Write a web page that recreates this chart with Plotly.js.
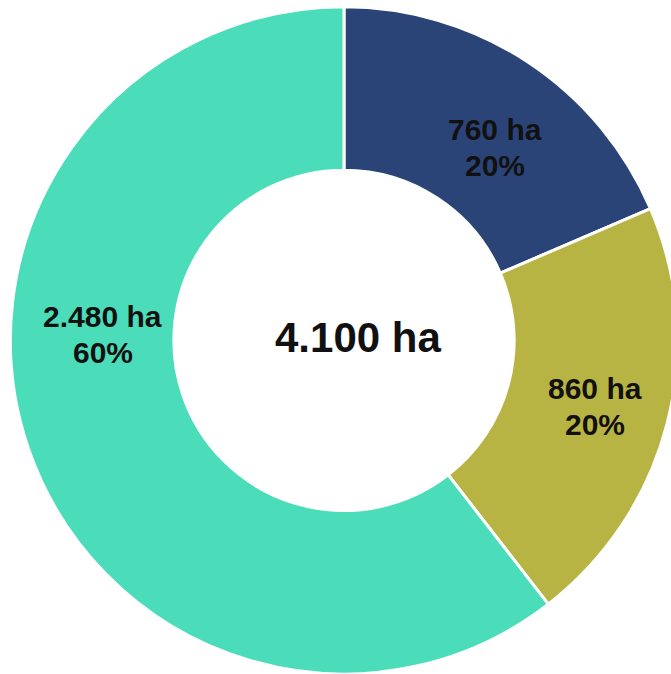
<!DOCTYPE html>
<html>
<head>
<meta charset="utf-8">
<script src="https://cdn.plot.ly/plotly-3.0.1.min.js"></script>
<style>
html, body { margin: 0; padding: 0; overflow: hidden; background: #ffffff; }
#chart { width: 688px; height: 674px; }
</style>
</head>
<body>
<div id="chart"></div>
<script>
const categories = ["Kategorie A", "Kategorie B", "Kategorie C"];
const values = [760, 860, 2480];
const areaLabels = ["760 ha", "860 ha", "2.480 ha"];
const shareLabels = ["20%", "20%", "60%"];
const totalLabel = "4.100 ha";
const colors = ["#2B4478", "#B8B443", "#4BDDB9"];

// label placement styling (angle nudge in degrees, radius as fraction of outer radius)
const labelStyle = {
  nudgeDeg: [4.6, 0.2, 20.2],
  radiusFrac: [0.735, 0.777, 0.723],
  lineGap: 18,
  font: { family: "Liberation Sans, Arial, sans-serif", size: 30, color: "#111111" }
};

const W = 688, H = 674;
const domY = [0.0, 0.99];
const cx = W * 0.5;
const cy = H * (1 - (domY[0] + domY[1]) / 2);
const R = Math.min(W, H * (domY[1] - domY[0])) / 2;

const total = values.reduce((a, b) => a + b, 0);
const annotations = [];
let cum = 0;
values.forEach((v, i) => {
  const mid = (cum + v / 2) / total * 360 + labelStyle.nudgeDeg[i];
  cum += v;
  const rad = mid * Math.PI / 180;
  const r = R * labelStyle.radiusFrac[i];
  const px = cx + r * Math.sin(rad);
  const py = cy - r * Math.cos(rad);
  [[areaLabels[i], -labelStyle.lineGap], [shareLabels[i], labelStyle.lineGap]].forEach(([t, dy]) => {
    annotations.push({
      text: "<b>" + t + "</b>",
      x: px / W, y: 1 - (py + dy) / H,
      xref: "paper", yref: "paper",
      xanchor: "center", yanchor: "middle",
      showarrow: false,
      font: labelStyle.font
    });
  });
});

annotations.push({
  text: "<b>" + totalLabel + "</b>",
  x: 0.5, y: 1 - (cy - 3) / H, xref: "paper", yref: "paper",
  xshift: 14,
  xanchor: "center", yanchor: "middle",
  showarrow: false,
  font: { family: "Liberation Sans, Arial, sans-serif", size: 42, color: "#111111" }
});

const trace = {
  type: "pie",
  labels: categories,
  values: values,
  textinfo: "none",
  hole: 0.51,
  sort: false,
  direction: "clockwise",
  rotation: 0,
  marker: { colors: colors, line: { color: "#ffffff", width: 3 } },
  domain: { x: [0, 1], y: domY },
  showlegend: false,
  hoverinfo: "skip"
};

const layout = {
  width: W,
  height: H,
  margin: { l: 0, r: 0, t: 0, b: 0, pad: 0 },
  paper_bgcolor: "#ffffff",
  showlegend: false,
  annotations: annotations
};

Plotly.newPlot("chart", [trace], layout, { staticPlot: true, displayModeBar: false });
</script>
</body>
</html>
